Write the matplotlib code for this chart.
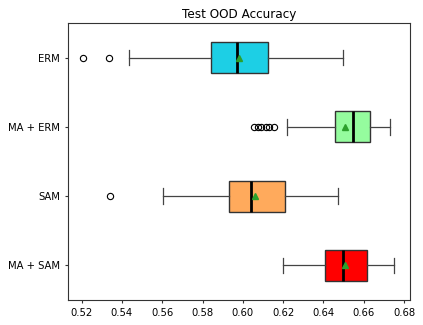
import matplotlib
matplotlib.use('Agg')
import matplotlib.pyplot as plt

# methods, top to bottom
methods = ['ERM', 'MA + ERM', 'SAM', 'MA + SAM']
colors = ['#1dcfe5', '#95fc9e', '#ffaa5c', '#ff0000']

# box statistics
whislo = [0.5434, 0.6219, 0.5603, 0.6199]
q1 = [0.5842, 0.6455, 0.5930, 0.6410]
med = [0.5969, 0.6549, 0.6042, 0.6499]
q3 = [0.6123, 0.6631, 0.6210, 0.6618]
whishi = [0.6498, 0.6730, 0.6471, 0.6750]
means = [0.5979, 0.6508, 0.6058, 0.6508]
fliers = [[0.5208, 0.5335],
          [0.6055, 0.6075, 0.6090, 0.6115, 0.6130, 0.6155],
          [0.5339],
          []]

stats = []
for i, name in enumerate(methods):
    stats.append({'label': name, 'whislo': whislo[i], 'q1': q1[i], 'med': med[i],
                  'q3': q3[i], 'whishi': whishi[i], 'mean': means[i],
                  'fliers': fliers[i]})

fig, ax = plt.subplots(figsize=(4.23, 3.25), dpi=100)
fig.subplots_adjust(left=0.161, right=0.969, top=0.929, bottom=0.077)

# ERM on top
positions = list(range(len(methods), 0, -1))
bp = ax.bxp(stats, positions=positions, vert=False, widths=0.45,
            patch_artist=True, showmeans=True,
            boxprops=dict(edgecolor='#333333', linewidth=1.0),
            whiskerprops=dict(color='#444444', linewidth=0.9),
            capprops=dict(color='#444444', linewidth=0.9),
            medianprops=dict(color='black', linewidth=2.0),
            meanprops=dict(marker='^', markerfacecolor='#2ca02c',
                           markeredgecolor='#2ca02c', markersize=5),
            flierprops=dict(marker='o', markerfacecolor='none',
                            markeredgecolor='black', markersize=4.5,
                            markeredgewidth=0.8))
for patch, c in zip(bp['boxes'], colors):
    patch.set_facecolor(c)

ax.set_xlim(0.5133, 0.6829)
ax.set_ylim(0.5, len(methods) + 0.5)
ax.set_xticks([0.52, 0.54, 0.56, 0.58, 0.60, 0.62, 0.64, 0.66, 0.68])
ax.set_xticklabels(['0.52', '0.54', '0.56', '0.58', '0.60', '0.62', '0.64', '0.66', '0.68'])
ax.tick_params(labelsize=7.2, length=2.5, color='#333333')
for s in ax.spines.values():
    s.set_color('#333333')
    s.set_linewidth(0.8)
ax.set_title('Test OOD Accuracy', fontsize=8.64, pad=4)

plt.savefig('out.png', dpi=100)
